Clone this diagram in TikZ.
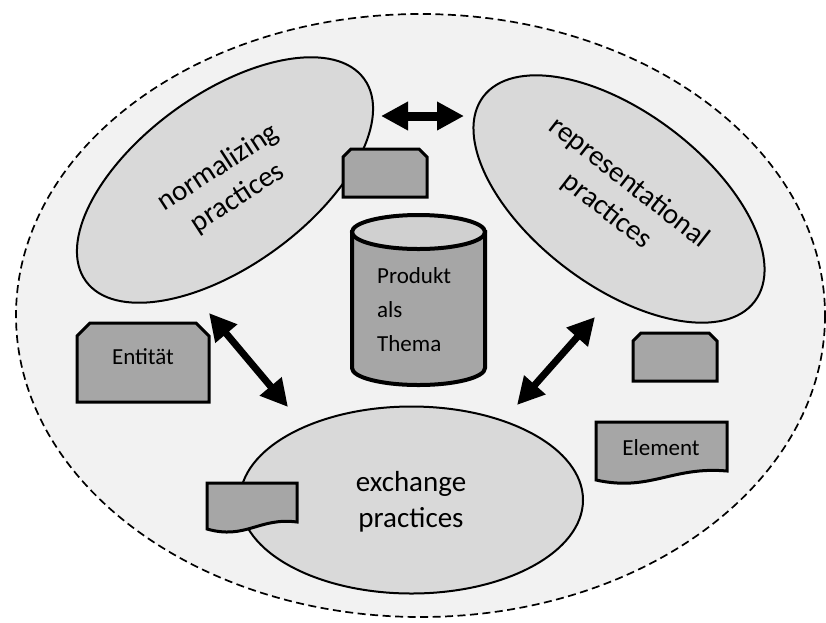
\documentclass[tikz,border=0pt]{standalone}
\usepackage{fontspec}
\setmainfont{Carlito}
\usetikzlibrary{shapes.geometric,arrows.meta}
\definecolor{bgfill}{RGB}{242,242,242}
\definecolor{ellfill}{RGB}{217,217,217}
\definecolor{boxfill}{RGB}{166,166,166}
\definecolor{topfill}{RGB}{208,208,208}
\begin{document}
\begin{tikzpicture}[x=1pt,y=-1pt,
 practice/.style={ellipse, draw, line width=2pt, fill=ellfill, inner sep=0pt},
 bigtext/.style={font=\fontsize{29}{36}\selectfont, align=center, inner sep=0pt},
 smalltext/.style={font=\fontsize{23}{28}\selectfont, inner sep=0pt},
 boxshape/.style={draw, line width=3pt, fill=boxfill, line join=miter},
 fatarrow/.style={line width=#1, {Triangle[length=27pt,width=27pt]}-{Triangle[length=27pt,width=27pt]}}
]
\useasboundingbox (0,0) rectangle (826,622);
% outer dashed region
\draw[fill=bgfill, dash pattern=on 8pt off 4.5pt, line width=1.7pt] (420.5,315.5) ellipse [x radius=404.5, y radius=301.5];

% practice ellipses
\node[practice, minimum width=344pt, minimum height=172pt, rotate=36] (norm) at (225,180) {};
\node[practice, minimum width=340pt, minimum height=174pt, rotate=-37] (repr) at (619,199) {};
\node[practice, minimum width=343pt, minimum height=187pt] (exch) at (411.5,500) {};

% chamfered boxes
\path[boxshape] (343,197) -- (343,157) -- (351,149) -- (419,149) -- (427,157) -- (427,197) -- cycle;
\path[boxshape] (77,402) -- (77,336) -- (90,323) -- (196,323) -- (209,336) -- (209,402) -- cycle;
\path[boxshape] (633,381) -- (633,341) -- (641,333) -- (709,333) -- (717,341) -- (717,381) -- cycle;

% document shapes
\path[boxshape] (596,422) -- (727,422) -- (727,471) .. controls (672,466) and (650,492) .. (596,480) -- cycle;
\path[boxshape] (207,483) -- (297,483) -- (297,522) .. controls (259,517) and (246,540) .. (207,529) -- cycle;

% cylinder
\path[draw, fill=boxfill, line width=4pt] (352,232) -- (352,368) arc[start angle=180, end angle=0, x radius=66.5, y radius=17] -- (485,232) -- cycle;
\draw[fill=topfill, line width=4pt] (418.5,232) ellipse [x radius=66.5, y radius=17];

% arrows
\coordinate (a1) at (381,116);
\coordinate (a2) at (464,116);
\coordinate (b1) at (209,313);
\coordinate (b2) at (288,407);
\coordinate (c1) at (595,317);
\coordinate (c2) at (517,405);
\draw[fatarrow=9pt] (a1) -- (a2);
\draw[fatarrow=7pt] (b1) -- (b2);
\draw[fatarrow=7pt] (c1) -- (c2);

% texts
\node[bigtext, rotate=33] (normtext) at (228,183) {normalizing\\practices};
\node[bigtext, rotate=-38] (reprtext) at (618,197) {representational\\practices};
\node[bigtext] (exchtext) at (411,502) {exchange\\practices};
\node[smalltext, anchor=west] (prod) at (377,276) {Produkt};
\node[smalltext, anchor=west] (als) at (377,310) {als};
\node[smalltext, anchor=west] (thema) at (377,344) {Thema};
\node[smalltext] (entitat) at (143,357) {Entität};
\node[smalltext] (element) at (661,448) {Element};
\end{tikzpicture}
\end{document}
